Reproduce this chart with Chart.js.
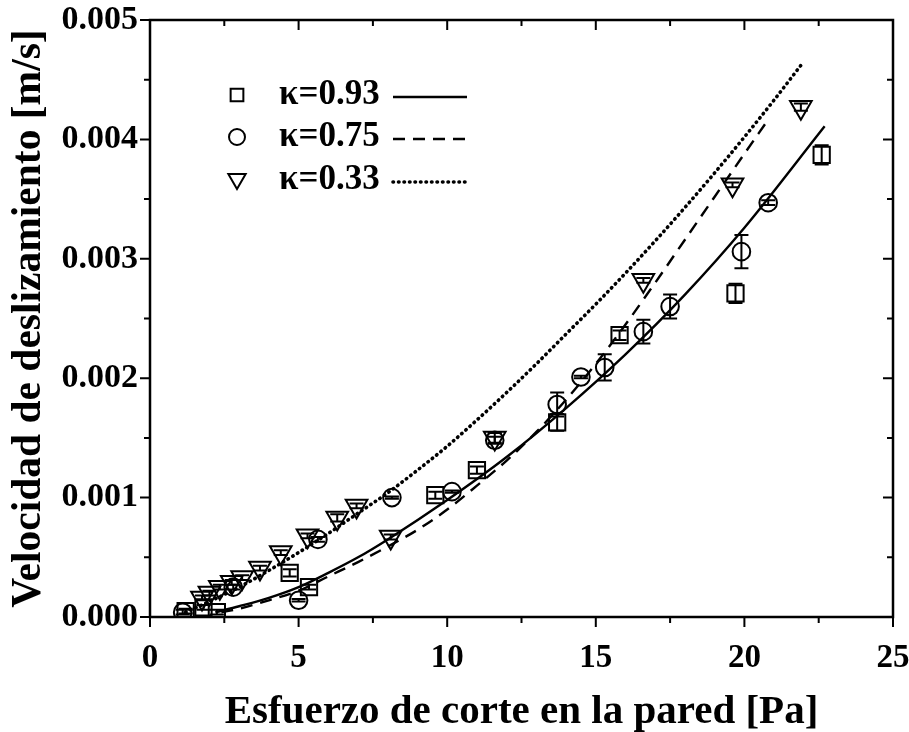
<!DOCTYPE html>
<html><head><meta charset="utf-8">
<script src="https://cdn.jsdelivr.net/npm/chart.js@4.4.0/dist/chart.umd.min.js"></script>
<style>html,body{margin:0;padding:0;background:#fff}#wrap{width:909px;height:732px;position:relative}</style>
</head><body><div id="wrap"><canvas id="c" width="909" height="732"></canvas></div>
<script>
// ---- data ----
const seriesLabels = ['\u03BA=0.93', '\u03BA=0.75', '\u03BA=0.33'];

// squares, kappa = 0.93
const sqX   = [1.2, 1.8, 2.25, 4.7, 5.35, 9.6, 11.0, 13.7, 15.8, 19.7, 22.6];
const sqY   = [0.00005, 0.00008, 0.00004, 0.00037, 0.00025, 0.00102, 0.00123, 0.00163, 0.00236, 0.00271, 0.00387];
const sqErr = [0.00002, 0.00002, 0.00002, 0.00003, 0.00002, 0.00003, 0.00003, 0.00007, 0.00004, 0.00008, 0.00008];

// circles, kappa = 0.75
const ciX   = [1.1, 2.8, 5.0, 5.65, 8.14, 10.16, 11.6, 13.7, 14.5, 15.3, 16.6, 17.5, 19.9, 20.8];
const ciY   = [0.00004, 0.00025, 0.00014, 0.00065, 0.00100, 0.00105, 0.00148, 0.00178, 0.00201, 0.00209, 0.00239, 0.00260, 0.00306, 0.00347];
const ciErr = [0.00002, 0.00002, 0.00001, 0.00002, 0.00001, 0.00001, 0.00003, 0.00010, 0.00001, 0.00011, 0.00010, 0.00010, 0.00014, 0.00002];

// down triangles, kappa = 0.33
const trX   = [1.75, 2.0, 2.35, 2.75, 3.1, 3.7, 4.4, 5.3, 6.3, 6.95, 8.1, 11.6, 16.6, 19.6, 21.9];
const trY   = [0.00016, 0.00020, 0.00025, 0.00029, 0.00033, 0.00041, 0.00054, 0.00068, 0.00083, 0.00093, 0.00067, 0.00150, 0.00282, 0.00362, 0.00427];
const trErr = [0.00002, 0.00002, 0.00002, 0.00002, 0.00002, 0.00002, 0.00002, 0.00002, 0.00003, 0.00002, 0.00002, 0.00004, 0.00002, 0.00002, 0.00003];

// model curves
const fit93X = [2.2, 3, 4, 5, 6, 7, 8, 10, 12, 14, 16, 18, 20, 22.7];
const fit93Y = [0.00004, 0.00009, 0.00016, 0.00025, 0.00037, 0.00050, 0.00065, 0.00098, 0.00134, 0.00175, 0.00220, 0.00270, 0.00326, 0.00411];
const fit75X = [2.4, 3, 4, 5, 6, 7, 8, 9, 10, 11, 12, 13, 14, 15, 16, 17, 18, 19, 20, 20.7];
const fit75Y = [0.00004, 0.00007, 0.00014, 0.00022, 0.00034, 0.00046, 0.00059, 0.00073, 0.00090, 0.00110, 0.00131, 0.00155, 0.00182, 0.00212, 0.00245, 0.00280, 0.00316, 0.00352, 0.00388, 0.00413];
const fit33X = [1.2, 2, 3, 4, 5, 6, 7, 8, 9, 10, 11, 12, 13, 14, 15, 16, 17, 18, 19, 20, 21, 21.9];
const fit33Y = [0.00004, 0.00013, 0.00025, 0.00039, 0.00054, 0.00070, 0.00087, 0.00104, 0.00123, 0.00143, 0.00165, 0.00188, 0.00212, 0.00237, 0.00262, 0.00288, 0.00315, 0.00343, 0.00372, 0.00402, 0.00433, 0.00462];

const xTicks = [0, 5, 10, 15, 20, 25];
const yTicks = [0, 0.001, 0.002, 0.003, 0.004, 0.005];
const xTitle = 'Esfuerzo de corte en la pared [Pa]';
const yTitle = 'Velocidad de deslizamiento [m/s]';

// ---- build ----
const pts = (xs, ys) => xs.map((x, i) => ({x, y: ys[i]}));
const FONT = "'Liberation Serif','Times New Roman',serif";

const markerBase = {type: 'scatter', showLine: false, borderColor: '#000', backgroundColor: 'rgba(0,0,0,0)', borderWidth: 2};
const lineBase = {type: 'line', pointRadius: 0, borderColor: '#000', borderWidth: 2.4, fill: false, cubicInterpolationMode: 'monotone'};

const datasets = [
  Object.assign({}, lineBase, {data: pts(fit93X, fit93Y)}),
  Object.assign({}, lineBase, {data: pts(fit75X, fit75Y), borderDash: [12, 8]}),
  Object.assign({}, lineBase, {data: pts(fit33X, fit33Y), borderDash: [0.5, 5], borderCapStyle: 'round', borderWidth: 3.6}),
  Object.assign({}, markerBase, {data: pts(sqX, sqY), err: sqErr, pointStyle: 'rect', pointRadius: 11.5, pointHoverRadius: 11.5}),
  Object.assign({}, markerBase, {data: pts(ciX, ciY), err: ciErr, pointStyle: 'circle', pointRadius: 8.8, pointHoverRadius: 8.8}),
  Object.assign({}, markerBase, {data: pts(trX, trY), err: trErr, pointStyle: 'triangle', rotation: 180, pointRadius: 12.5, pointHoverRadius: 12.5})
];

const errorBars = {
  id: 'errorBars',
  afterDatasetsDraw(chart) {
    const ctx = chart.ctx, ys = chart.scales.y, xs = chart.scales.x;
    ctx.save();
    ctx.strokeStyle = '#000'; ctx.lineWidth = 2;
    chart.data.datasets.forEach(ds => {
      if (!ds.err) return;
      ds.data.forEach((p, i) => {
        const px = xs.getPixelForValue(p.x);
        const y1 = ys.getPixelForValue(p.y - ds.err[i]);
        const y2 = ys.getPixelForValue(p.y + ds.err[i]);
        ctx.beginPath();
        ctx.moveTo(px, y1); ctx.lineTo(px, y2);
        ctx.moveTo(px - 7, y1); ctx.lineTo(px + 7, y1);
        ctx.moveTo(px - 7, y2); ctx.lineTo(px + 7, y2);
        ctx.stroke();
      });
    });
    ctx.restore();
  }
};

const frame = {
  id: 'frame',
  afterDraw(chart) {
    const ctx = chart.ctx, a = chart.chartArea, xs = chart.scales.x, ys = chart.scales.y;
    ctx.save();
    ctx.strokeStyle = '#000'; ctx.lineWidth = 2.5; ctx.lineCap = 'square';
    ctx.strokeRect(a.left, a.top, a.right - a.left, a.bottom - a.top);
    ctx.lineWidth = 2; ctx.lineCap = 'butt';
    ctx.beginPath();
    for (let i = 0; i < xTicks.length; i++) {
      const v = xTicks[i];
      const p = xs.getPixelForValue(v);
      ctx.moveTo(p, a.bottom); ctx.lineTo(p, a.bottom + 10);
      ctx.moveTo(p, a.top); ctx.lineTo(p, a.top + 10);
      if (i < xTicks.length - 1) {
        const m = xs.getPixelForValue((v + xTicks[i + 1]) / 2);
        ctx.moveTo(m, a.bottom); ctx.lineTo(m, a.bottom + 6);
        ctx.moveTo(m, a.top); ctx.lineTo(m, a.top + 6);
      }
    }
    for (let i = 0; i < yTicks.length; i++) {
      const v = yTicks[i];
      const p = ys.getPixelForValue(v);
      ctx.moveTo(a.left, p); ctx.lineTo(a.left - 10, p);
      ctx.moveTo(a.right, p); ctx.lineTo(a.right - 10, p);
      if (i < yTicks.length - 1) {
        const m = ys.getPixelForValue((v + yTicks[i + 1]) / 2);
        ctx.moveTo(a.left, m); ctx.lineTo(a.left - 6, m);
        ctx.moveTo(a.right, m); ctx.lineTo(a.right - 6, m);
      }
    }
    ctx.stroke();
    ctx.restore();
  }
};

const legendBox = {
  id: 'legendBox',
  afterDraw(chart) {
    const ctx = chart.ctx;
    const rows = [
      {marker: 3, line: 0, y: 95},
      {marker: 4, line: 1, y: 137},
      {marker: 5, line: 2, y: 180}
    ];
    ctx.save();
    rows.forEach((r, i) => {
      const md = chart.data.datasets[r.marker];
      const ld = chart.data.datasets[r.line];
      ctx.strokeStyle = '#000'; ctx.fillStyle = 'rgba(0,0,0,0)';
      ctx.lineWidth = 2;
      Chart.helpers.drawPoint(ctx, {pointStyle: md.pointStyle, rotation: md.rotation || 0, radius: md.pointStyle === 'rect' ? 9 : (md.pointStyle === 'triangle' ? 10 : 8), borderWidth: 2}, 237, r.y - (md.pointStyle === 'triangle' ? 1 : 0));
      ctx.fillStyle = '#000';
      ctx.font = 'bold 35px ' + FONT;
      ctx.textBaseline = 'middle';
      ctx.fillText(seriesLabels[i], 279, r.y);
      ctx.beginPath();
      ctx.lineWidth = ld.borderWidth;
      ctx.setLineDash(ld.borderDash || []);
      ctx.lineCap = ld.borderCapStyle || 'butt';
      ctx.moveTo(393, r.y + 2); ctx.lineTo(467, r.y + 2);
      ctx.stroke();
      ctx.setLineDash([]);
    });
    ctx.restore();
  }
};

const zeroPad = s => { s.paddingTop = 0; s.paddingBottom = 0; s.paddingLeft = 0; s.paddingRight = 0; };

new Chart(document.getElementById('c'), {
  data: {datasets},
  options: {
    responsive: false,
    animation: false,
    devicePixelRatio: 1,
    layout: {padding: {top: 20, right: 16, left: 0, bottom: 0}},
    plugins: {legend: {display: false}, tooltip: {enabled: false}},
    scales: {
      x: {
        type: 'linear', min: 0, max: 25,
        afterBuildTicks: s => { s.ticks = xTicks.map(v => ({value: v})); },
        ticks: {color: '#000', font: {family: FONT, size: 33, weight: 'bold'}, padding: 22, maxRotation: 0},
        grid: {display: false, drawTicks: false}, border: {display: false},
        title: {display: true, text: xTitle, color: '#000', font: {family: FONT, size: 41, weight: 'bold'}, padding: {top: 0, bottom: -5}},
        afterFit: s => { s.height = 115; zeroPad(s); }
      },
      y: {
        type: 'linear', min: 0, max: 0.005,
        afterBuildTicks: s => { s.ticks = yTicks.map(v => ({value: v})); },
        ticks: {color: '#000', font: {family: FONT, size: 34, weight: 'bold'}, padding: 12, callback: v => Number(v).toFixed(3)},
        grid: {display: false, drawTicks: false}, border: {display: false},
        title: {display: true, text: yTitle, color: '#000', font: {family: FONT, size: 41.5, weight: 'bold'}, padding: {top: 4, bottom: 0}},
        afterFit: s => { s.width = 150; zeroPad(s); }
      }
    }
  },
  plugins: [errorBars, frame, legendBox]
});
</script>
</body></html>
